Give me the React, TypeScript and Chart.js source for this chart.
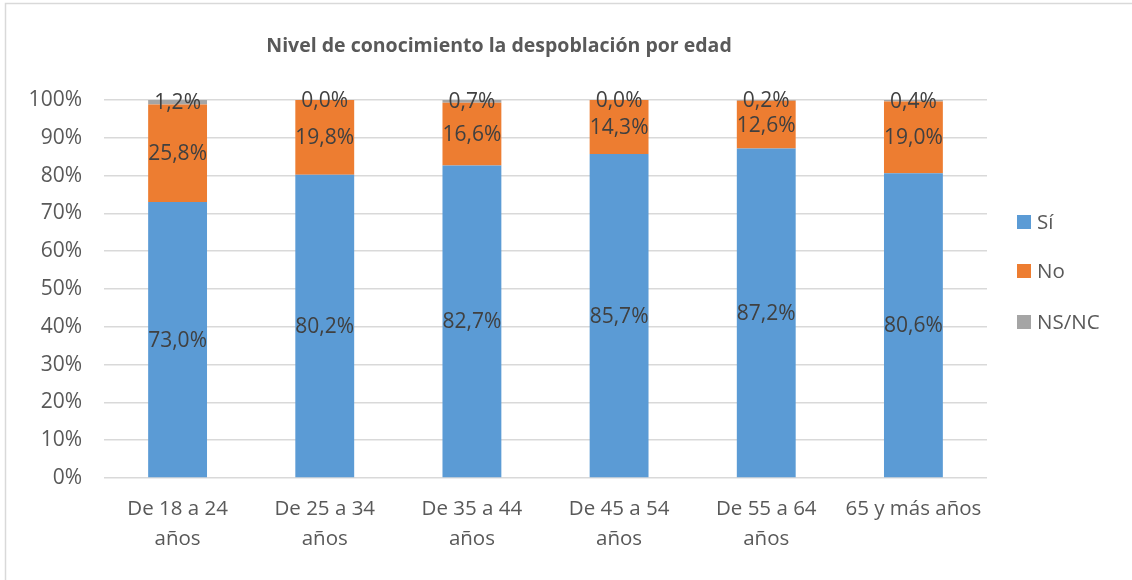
import React, { useEffect, useRef } from "react";
import { Chart, registerables } from "chart.js";

Chart.register(...registerables);

const categories: (string | string[])[] = [
  ["De 18 a 24", "años"],
  ["De 25 a 34", "años"],
  ["De 35 a 44", "años"],
  ["De 45 a 54", "años"],
  ["De 55 a 64", "años"],
  "65 y más años",
];
const siValues = [73.0, 80.2, 82.7, 85.7, 87.2, 80.6];
const noValues = [25.8, 19.8, 16.6, 14.3, 12.6, 19.0];
const nsncValues = [1.2, 0.0, 0.7, 0.0, 0.2, 0.4];
const seriesNames = ["Sí", "No", "NS/NC"];
const seriesColors = ["#5B9BD5", "#ED7D31", "#A5A5A5"];
const titleText = "Nivel de conocimiento la despoblación por edad";

const FONT = "'Open Sans', 'Liberation Sans', sans-serif";

const decorPlugin = {
  id: "decor",
  beforeDraw(chart: any) {
    const ctx = chart.ctx;
    ctx.save();
    ctx.fillStyle = "#ffffff";
    ctx.fillRect(0, 0, chart.width, chart.height);
    ctx.strokeStyle = "#d9d9d9";
    ctx.lineWidth = 1.5;
    ctx.beginPath();
    ctx.moveTo(5.5, chart.height + 5);
    ctx.lineTo(5.5, 3.5);
    ctx.lineTo(chart.width + 5, 3.5);
    ctx.stroke();
    ctx.restore();
  },
  afterDraw(chart: any) {
    const ctx = chart.ctx;
    ctx.save();
    ctx.font = `bold 19.5px ${FONT}`;
    ctx.fillStyle = "#595959";
    ctx.textAlign = "center";
    ctx.textBaseline = "middle";
    ctx.fillText(titleText, 499, 46);
    ctx.font = `20.5px ${FONT}`;
    ctx.textAlign = "left";
    const ys = [222, 271, 322];
    seriesNames.forEach((name, i) => {
      ctx.fillStyle = seriesColors[i];
      ctx.fillRect(1017, ys[i] - 7, 14, 14);
      ctx.fillStyle = "#595959";
      ctx.fillText(name, 1037, ys[i] + 1);
    });
    ctx.restore();
  },
  afterDatasetsDraw(chart: any) {
    const ctx = chart.ctx;
    ctx.save();
    ctx.font = `21px ${FONT}`;
    ctx.fillStyle = "#404040";
    ctx.textAlign = "center";
    ctx.textBaseline = "middle";
    chart.data.datasets.forEach((ds: any, di: number) => {
      const meta = chart.getDatasetMeta(di);
      meta.data.forEach((el: any, i: number) => {
        const v = ds.data[i] as number;
        const cy = (el.y + el.base) / 2;
        ctx.fillText(v.toFixed(1).replace(".", ",") + "%", el.x, cy + 1);
      });
    });
    ctx.restore();
  },
};

export default function App() {
  const ref = useRef<HTMLCanvasElement>(null);
  useEffect(() => {
    document.body.style.margin = "0";
    const chart = new Chart(ref.current!, {
      type: "bar",
      data: {
        labels: categories,
        datasets: [
          { label: seriesNames[0], data: siValues, backgroundColor: seriesColors[0] },
          { label: seriesNames[1], data: noValues, backgroundColor: seriesColors[1] },
          { label: seriesNames[2], data: nsncValues, backgroundColor: seriesColors[2] },
        ],
      },
      options: {
        animation: false,
        responsive: false,
        maintainAspectRatio: false,
        devicePixelRatio: 1,
        datasets: { bar: { categoryPercentage: 1, barPercentage: 0.4 } },
        layout: { padding: { left: 0, right: 145, top: 100, bottom: 0 } },
        plugins: { legend: { display: false }, title: { display: false }, tooltip: { enabled: false } },
        scales: {
          x: {
            stacked: true,
            grid: { display: false, drawTicks: false },
            border: { display: false },
            ticks: {
              color: "#595959",
              font: { family: FONT, size: 20.5, lineHeight: 1.42 },
              padding: 17,
              maxRotation: 0,
              autoSkip: false,
            },
            afterFit: (s: any) => {
              s.height = 102;
            },
          },
          y: {
            stacked: true,
            min: 0,
            max: 100,
            grid: { color: "#d9d9d9", lineWidth: 1.5, drawTicks: false },
            border: { display: false },
            ticks: {
              stepSize: 10,
              color: "#595959",
              font: { family: FONT, size: 21 },
              padding: 22,
              callback: (v: any) => v + "%",
            },
            afterFit: (s: any) => {
              s.width = 104;
            },
          },
        },
      },
      plugins: [decorPlugin],
    });
    return () => chart.destroy();
  }, []);
  return (
    <div style={{ width: 1132, height: 580 }}>
      <canvas ref={ref} width={1132} height={580} />
    </div>
  );
}
